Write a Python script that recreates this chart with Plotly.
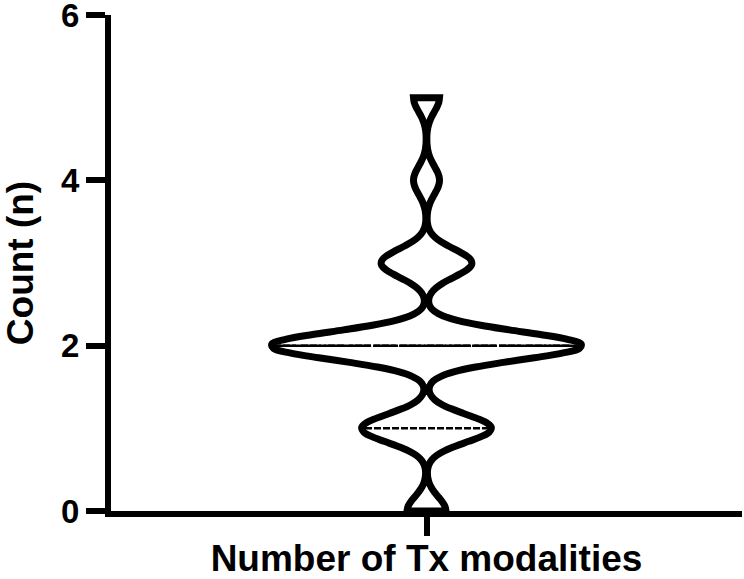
import numpy as np
import plotly.graph_objects as go

# number of treatment modalities per patient, and how many patients had each
modalities = [0, 1, 2, 3, 4, 5]
n_patients = [3, 10, 24, 7, 2, 2]

bw = 0.17
violin_width = 0.98
stroke = 7

y = np.repeat(modalities, n_patients).astype(float)

# same gaussian kde as plotly.js uses, to size the quartile lines
def kde(t):
    u = (t - y[:, None]) / bw
    return np.exp(-0.5 * u**2).sum(axis=0) / (len(y) * bw * np.sqrt(2 * np.pi))

lo, hi = y.min(), y.max()
npts = int(np.ceil((hi - lo) / (bw / 3)))
grid = lo + np.arange(npts + 1) * (hi - lo) / npts
max_kde = kde(grid).max()

q1, med, q3 = np.percentile(y, [25, 50, 75])

fig = go.Figure()
fig.add_trace(go.Violin(
    y=y, x0=0, name='',
    bandwidth=bw, spanmode='hard', scalemode='width', width=violin_width,
    points=False, box_visible=False, meanline_visible=False,
    line=dict(color='black', width=stroke), fillcolor='white',
    hoverinfo='skip', showlegend=False,
))

# px -> x units (plot is 631 px wide over 2 units)
px = 2 / 631
for q, dash in [(med, '22px,3px'), (q1, '7px,2px'), (q3, '7px,2px')]:
    half = violin_width / 2 * kde(np.array([q]))[0] / max_kde - stroke / 2 * px
    fig.add_trace(go.Scatter(
        x=[-half, half], y=[q, q], mode='lines',
        line=dict(color='black', width=2.5, dash=dash),
        hoverinfo='skip', showlegend=False,
    ))

font = dict(family='Arial, Liberation Sans, sans-serif', color='black', weight='bold')

fig.update_layout(
    width=744, height=579,
    margin=dict(l=111, r=2, t=15, b=68),
    plot_bgcolor='white', paper_bgcolor='white',
    font=font,
    xaxis=dict(
        type='linear', range=[-1, 1], automargin=False,
        tickvals=[0], ticktext=[''],
        ticks='outside', ticklen=19, tickwidth=6, tickcolor='black',
        showline=True, linewidth=6, linecolor='black',
        showgrid=False, zeroline=False,
        title=dict(text='Number of Tx modalities', font=dict(size=37, **font), standoff=25),
    ),
    yaxis=dict(
        range=[0, 6], tickvals=[0, 2, 4, 6], automargin=False,
        ticks='outside', ticklen=19, tickwidth=6, tickcolor='black',
        tickfont=dict(size=33, **font), ticklabeloverflow='allow',
        showline=True, linewidth=6, linecolor='black',
        showgrid=False, zeroline=False,
        title=dict(text='Count (n)', font=dict(size=37, **font), standoff=30),
    ),
)

# drop the browser's default body margin so the figure sits at the page corner
fig.write_html("out.html", config={'displayModeBar': False},
               post_script="document.body.style.margin = '0';")
